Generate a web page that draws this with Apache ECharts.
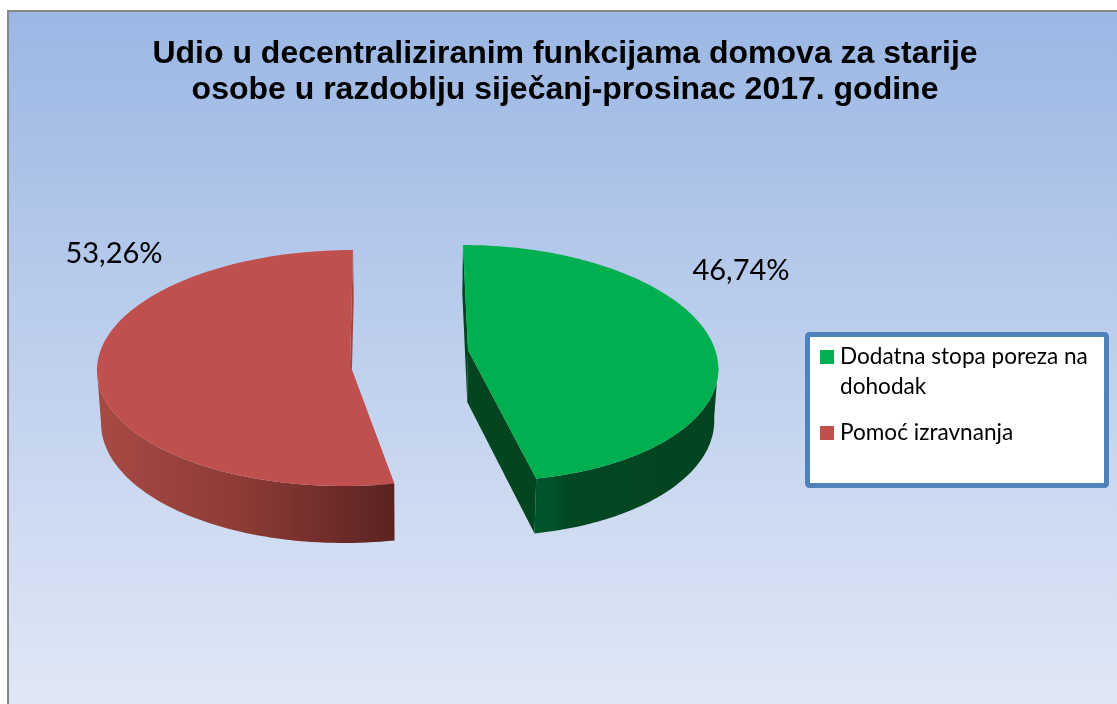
<!DOCTYPE html>
<html>
<head>
<meta charset="utf-8">
<script src="https://cdn.jsdelivr.net/npm/echarts@6/dist/echarts.min.js"></script>
<style>html,body{margin:0;padding:0;background:#fff}#c{width:1117px;height:704px}</style>
</head>
<body>
<div id="c"></div>
<script>
const titleText = 'Udio u decentraliziranim funkcijama domova za starije\nosobe u razdoblju siječanj-prosinac 2017. godine';
const sliceNames = ['Dodatna stopa poreza na\ndohodak', 'Pomoć izravnanja'];
const sliceValues = [46.74, 53.26];
const sliceColors = ['#00b050', '#c0504d'];

// Projection of each exploded slice (the chart is a perspective 3D pie).
const projection = [
  { cx: 475, cy: 363, rx: 243, ry: 118, shear: 12, tipX: 468, tipY: 350, labelX: 741, labelY: 271, radial: '#03451f', frontDepth: 55,
    wall: [[0, '#00562a'], [0.1, '#005228'], [0.18, '#024823'], [1, '#03431f']] },
  { cx: 348, cy: 368, rx: 251, ry: 118, shear: -5, tipX: 350, tipY: 365, labelX: 114, labelY: 254, radial: '#a5443f', frontDepth: 57,
    wall: [[0, '#a84a44'], [0.5, '#8c3a35'], [1, '#5a2322']] }
];
const vanishX = 410, pull = 0.013, backDepth = 48, tipDepth = 52;

const total = sliceValues.reduce((a, b) => a + b, 0);
function sliceRange(i) {
  let before = 0;
  for (let k = 0; k < i; k++) before += sliceValues[k];
  return [before / total * 2 * Math.PI, (before + sliceValues[i]) / total * 2 * Math.PI];
}
function topPoint(p, t) {
  return [p.cx + p.rx * Math.sin(t) - p.shear * Math.cos(t), p.cy - p.ry * Math.cos(t)];
}
function lower(pt, depth) {
  return [pt[0] + (vanishX - pt[0]) * pull, pt[1] + depth];
}
function depthAt(p, t) {
  return backDepth + (p.frontDepth - backDepth) * (1 - Math.cos(t)) / 2;
}
function renderSlice(params, api) {
  const i = params.seriesIndex;
  const p = projection[i];
  const r = sliceRange(i);
  const steps = 120;
  const rim = [], wallTop = [], wallLow = [];
  for (let s = 0; s <= steps; s++) {
    const t = r[0] + (r[1] - r[0]) * s / steps;
    const q = topPoint(p, t);
    rim.push(q);
    // only the part of the outer wall that faces the viewer
    if (Math.cos(t) <= 0) {
      wallTop.push(q);
      wallLow.push(lower(q, depthAt(p, t)));
    }
  }
  const tip = [p.tipX, p.tipY];
  const tipLow = lower(tip, tipDepth);
  const first = lower(rim[0], depthAt(p, r[0]));
  const last = lower(rim[steps], depthAt(p, r[1]));
  const poly = (points, fill) => ({ type: 'polygon', shape: { points: points }, style: { fill: fill } });
  const wallFill = new echarts.graphic.LinearGradient(0, 0, 1, 0, p.wall.map(s => ({ offset: s[0], color: s[1] })));
  const value = api.value(0);
  return {
    type: 'group',
    children: [
      poly([rim[0], first, tipLow, tip], p.radial),
      poly([rim[steps], last, tipLow, tip], p.radial),
      poly(wallTop.concat(wallLow.slice().reverse()), wallFill),
      poly([tip].concat(rim), sliceColors[i]),
      {
        type: 'text', x: p.labelX, y: p.labelY,
        style: {
          text: value.toFixed(2).replace('.', ',') + '%',
          fill: '#000', font: '29px Lato', align: 'center', verticalAlign: 'middle'
        }
      }
    ]
  };
}

const chart = echarts.init(document.getElementById('c'), null, { renderer: 'canvas' });
const legendText = { color: '#000', fontFamily: 'Lato', fontSize: 22.6, lineHeight: 30, padding: [0, 0, 0, 1] };
chart.setOption({
  animation: false,
  title: {
    text: titleText, left: 560, top: 31, textAlign: 'center',
    textStyle: { fontFamily: 'Liberation Sans', fontWeight: 'bold', fontSize: 32, lineHeight: 36, color: '#000' }
  },
  graphic: [
    { type: 'rect', z: -10, shape: { x: 8, y: 11, width: 1120, height: 700 },
      style: { stroke: '#868686', lineWidth: 2,
        fill: new echarts.graphic.LinearGradient(0, 0, 0, 1, [
          { offset: 0, color: '#9bb7e4' }, { offset: 0.5, color: '#bfd0ed' }, { offset: 1, color: '#e1e8f6' }]) } },
    { type: 'rect', z: -5, shape: { x: 807.5, y: 334.5, width: 299, height: 151, r: 2 },
      style: { fill: '#fff', stroke: '#4f81bd', lineWidth: 5 } }
  ],
  legend: [
    { left: 820, top: 342, orient: 'vertical', padding: 0, itemWidth: 14, itemHeight: 60, itemGap: 0,
      data: [{ name: sliceNames[0], icon: 'path://M0 0H0V0ZM0 8H14V22H0ZM14 60H14V60Z' }],
      textStyle: legendText, selectedMode: false },
    { left: 820, top: 418, orient: 'vertical', padding: 0, itemWidth: 14, itemHeight: 14, itemGap: 0,
      data: [{ name: sliceNames[1], icon: 'rect' }],
      textStyle: legendText, selectedMode: false }
  ],
  series: sliceNames.map((name, i) => ({
    type: 'custom', name: name, coordinateSystem: 'none', silent: true,
    itemStyle: { color: sliceColors[i] },
    data: [[sliceValues[i]]],
    renderItem: renderSlice
  }))
});
</script>
</body>
</html>
